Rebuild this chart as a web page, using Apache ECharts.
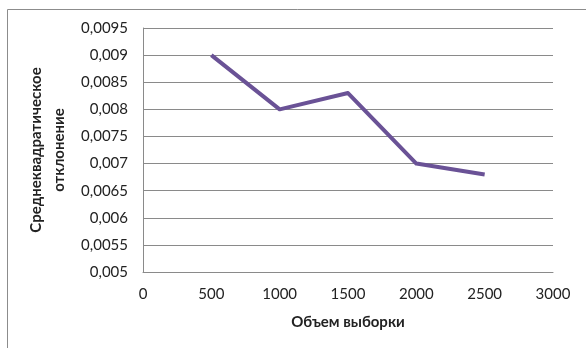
<!DOCTYPE html>
<html>
<head>
<meta charset="utf-8">
<script src="https://cdn.jsdelivr.net/npm/echarts@6/dist/echarts.min.js"></script>
<style>
  html, body { margin: 0; padding: 0; background: #fff; }
  #main { width: 586px; height: 348px; }
</style>
</head>
<body>
<div id="main"></div>
<script>
// данные графика
const sampleSizes = [500, 1000, 1500, 2000, 2500];
const stdDev = [0.009, 0.008, 0.0083, 0.007, 0.0068];
const xTitle = 'Объем выборки';
const yTitle = 'Среднеквадратическое\nотклонение';

var chartDom = document.getElementById('main');
var myChart = echarts.init(chartDom);
var font = 'Lato, "Open Sans", sans-serif';

var option = {
    animation: false,
    graphic: [
        {
            type: 'rect',
            shape: { x: 7.5, y: 9.5, width: 700, height: 400 },
            style: { fill: 'none', stroke: '#8c8c8c', lineWidth: 1 }
        }
    ],
    grid: { left: 143, right: 33, top: 28, bottom: 76 },
    xAxis: {
        type: 'value',
        min: 0,
        max: 3000,
        interval: 500,
        name: xTitle,
        nameLocation: 'middle',
        nameGap: 43,
        nameTextStyle: { fontFamily: font, fontSize: 15, fontWeight: 'bold', color: '#222' },
        axisLine: { show: true, lineStyle: { color: '#8a8a8a', width: 1 } },
        axisTick: { show: false },
        splitLine: { show: false },
        axisLabel: {
            margin: 15,
            fontFamily: font,
            fontSize: 15,
            color: '#222',
            formatter: function (v) { return String(v); }
        }
    },
    yAxis: {
        type: 'value',
        min: 0.005,
        max: 0.0095,
        interval: 0.0005,
        name: yTitle,
        nameLocation: 'middle',
        nameRotate: 90,
        nameGap: 68,
        nameTextStyle: { fontFamily: font, fontSize: 15, fontWeight: 'bold', color: '#222', lineHeight: 23 },
        axisLine: { show: true, lineStyle: { color: '#8a8a8a', width: 1 } },
        axisTick: { show: false },
        splitLine: { show: true, lineStyle: { color: '#8a8a8a', width: 1 } },
        axisLabel: {
            margin: 15,
            fontFamily: font,
            fontSize: 15,
            color: '#222',
            formatter: function (v) {
                return String(parseFloat(v.toFixed(6))).replace('.', ',');
            }
        }
    },
    series: [
        {
            type: 'line',
            data: sampleSizes.map(function (x, i) { return [x, stdDev[i]]; }),
            symbol: 'none',
            lineStyle: { color: '#6a5296', width: 4, join: 'round' }
        }
    ]
};
myChart.setOption(option);
</script>
</body>
</html>
